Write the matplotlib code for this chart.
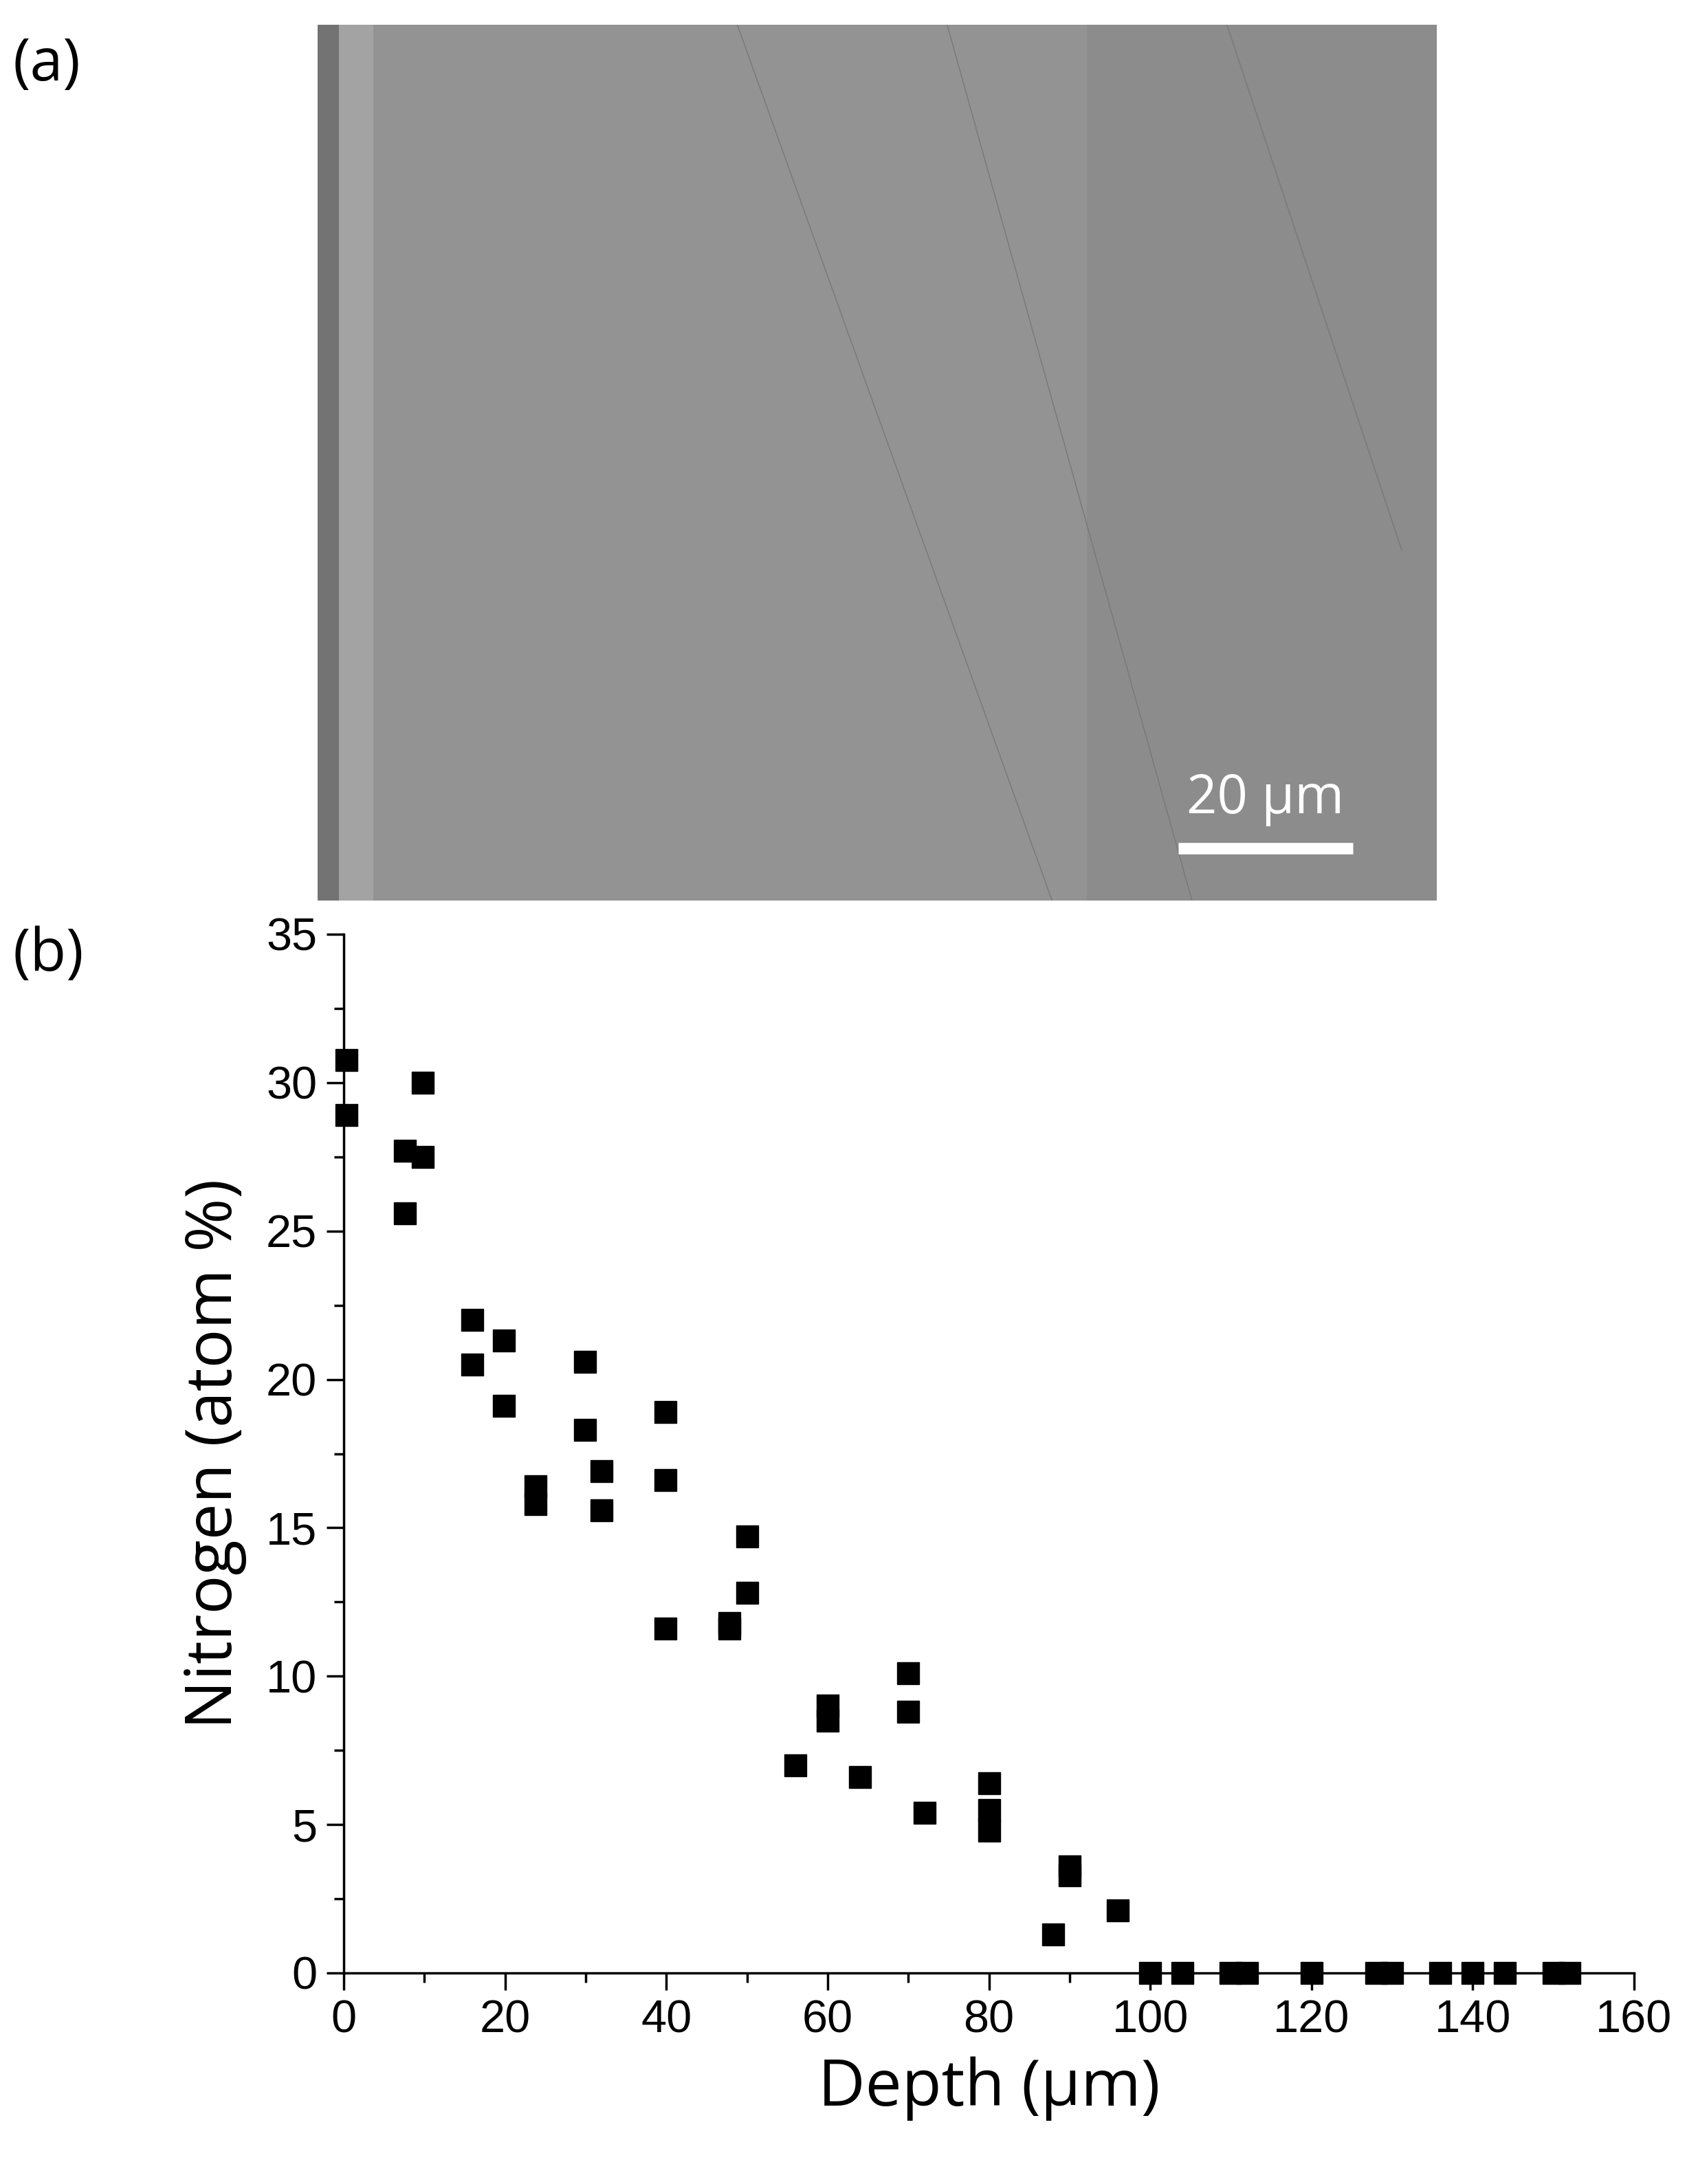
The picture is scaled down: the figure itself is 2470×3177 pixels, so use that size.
import matplotlib
matplotlib.use("Agg")
import matplotlib.pyplot as plt
import numpy as np

depth = [0.3, 0.3, 7.6, 7.6, 9.8, 9.8, 15.9, 15.9, 19.9, 19.9, 23.8, 23.8,
         29.9, 29.9, 32, 32, 39.9, 39.9, 39.9, 47.8, 47.8, 50, 50, 56, 60, 60,
         64, 70, 70, 72, 80, 80, 80, 88, 90, 90, 96,
         100, 104, 110, 112, 120, 128, 130, 136, 140, 144, 150, 152]
nitrogen = [30.75, 28.9, 27.7, 25.6, 30.0, 27.5, 22.0, 20.5, 21.3, 19.1, 16.4, 15.8,
            20.6, 18.3, 16.9, 15.6, 18.9, 16.6, 11.6, 11.8, 11.6, 14.7, 12.8, 7.0, 9.0, 8.5,
            6.6, 10.1, 8.8, 5.4, 6.4, 5.5, 4.8, 1.3, 3.6, 3.3, 2.1,
            0, 0, 0, 0, 0, 0, 0, 0, 0, 0, 0, 0]
x_ticks = [0, 20, 40, 60, 80, 100, 120, 140, 160]
y_ticks = [0, 5, 10, 15, 20, 25, 30, 35]

W, H = 2470, 3177
fig = plt.figure(figsize=(W/100, H/100), dpi=100)

# panel (a): SEM image placeholder
axa = fig.add_axes([462/W, 1-1310/H, (2090-462)/W, (1310-36)/H])
img = np.full((100, 160), 0.58)
img[:, :8] = 0.64
img[:, :3] = 0.45
img[:, 110:] = 0.55
axa.imshow(img, cmap="gray", vmin=0, vmax=1, aspect="auto", extent=[0, 160, 100, 0])
for (x0, y0, x1, y1) in [(60, 0, 105, 100), (90, 0, 125, 100), (130, 0, 155, 60)]:
    axa.plot([x0, x1], [y0, y1], color="0.47", lw=1)
axa.plot([123, 148], [94, 94], color="white", lw=12, solid_capstyle="butt")
axa.text(135.5, 91.5, "20 µm", color="white", ha="center", va="bottom", fontsize=56, family="Open Sans")
axa.set_xlim(0, 160); axa.set_ylim(100, 0)
axa.axis("off")

fig.text(18/W, 1-95/H, "(a)", fontsize=62, family="Open Sans", va="center")
fig.text(18/W, 1-1390/H, "(b)", fontsize=62, family="Open Sans", va="center")

# panel (b)
ax = fig.add_axes([500/W, 1-2870/H, (2377-500)/W, (2870-1359)/H])
ax.plot(depth, nitrogen, "s", color="black", markersize=23, clip_on=False)
ax.set_xlim(0, 160); ax.set_ylim(0, 35)
ax.set_xticks(x_ticks); ax.set_yticks(y_ticks)
ax.set_xticks(np.arange(10, 160, 20), minor=True)
ax.set_yticks(np.arange(2.5, 35, 5), minor=True)
for s in ["top", "right"]:
    ax.spines[s].set_visible(False)
for s in ["left", "bottom"]:
    ax.spines[s].set_linewidth(2.5)
ax.tick_params(which="major", direction="out", length=18, width=2.5, labelsize=48, pad=10)
ax.tick_params(which="minor", direction="out", length=10, width=2.5)
for lab in ax.get_xticklabels() + ax.get_yticklabels():
    lab.set_family("Liberation Sans")
ax.set_xlabel("Depth (µm)", fontsize=68, family="Open Sans", labelpad=15)
ax.set_ylabel("Nitrogen (atom %)", fontsize=68, family="Open Sans", labelpad=20)

fig.savefig("out.png", dpi=100)
